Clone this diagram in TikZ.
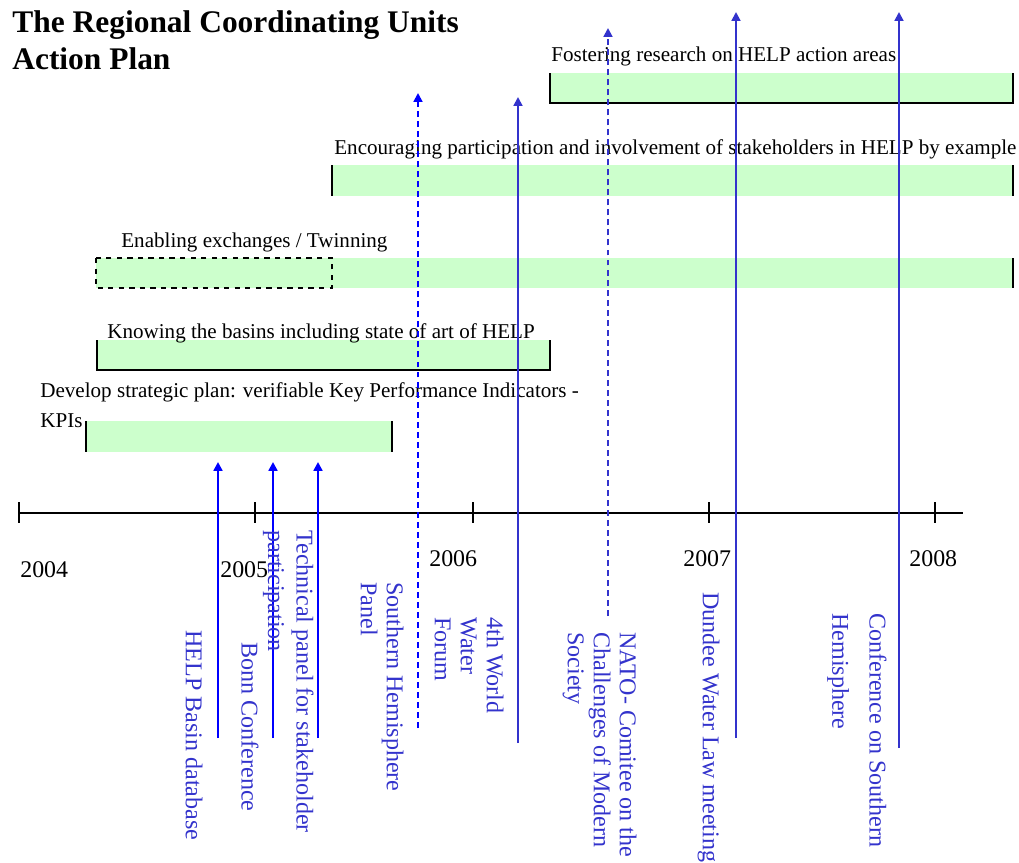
\documentclass[tikz,border=0pt]{standalone}
\usepackage{fontspec}
\setmainfont{Liberation Serif}
\usetikzlibrary{arrows.meta}
\definecolor{barfill}{RGB}{204,255,204}
\definecolor{evblue}{RGB}{51,51,204}
\definecolor{deepblue}{RGB}{0,0,255}
\tikzset{barlabel/.style={anchor=base west,inner sep=0,font=\fontsize{12}{14.4}\selectfont},
 yearlabel/.style={anchor=base west,inner sep=0,font=\fontsize{13.6}{16}\selectfont},
 evlabel/.style={rotate=-90,anchor=north west,inner sep=0,align=left,text=evblue,
   font=\fontsize{13.7}{14.8}\selectfont},
 evline/.style={-{Triangle[length=5pt,width=5pt]},line width=1.1pt,draw=evblue},
 evthick/.style={evline,line width=1.7pt,draw=deepblue},
 evdash/.style={evline,dash pattern=on 3.4pt off 2.3pt},
 baredge/.style={line width=0.8pt},
 }

\begin{document}
\begin{tikzpicture}[x=0.02cm,y=-0.02cm]
    \useasboundingbox (0,0) rectangle (1019,863);
    % title
    \node[anchor=north west,inner sep=0,align=left,font=\fontsize{17.9}{21}\selectfont\bfseries]
        (title) at (12,10) {The Regional Coordinating Units\\Action Plan};

    % bars
    \fill[barfill] (550,73) rectangle (1013,103);
    \draw[baredge] (550,73) -- (550,103) -- (1013,103) -- (1013,73);
    \node[barlabel] (foster) at (551,61) {Fostering research on HELP action areas};

    \fill[barfill] (332,165) rectangle (1013,196);
    \draw[baredge] (332,165) -- (332,196);
    \draw[baredge] (1013,165) -- (1013,196);
    \node[barlabel] (encour) at (334,154) {Encouraging participation and involvement of stakeholders in HELP by example};

    \fill[barfill] (96,258) rectangle (1013,288);
    \draw[baredge,dashed] (96,258) rectangle (332,288);
    \draw[baredge] (1013,258) -- (1013,288);
    \node[barlabel] (enable) at (121,247) {Enabling exchanges / Twinning};

    \fill[barfill] (97,340) rectangle (550,370);
    \draw[baredge] (97,340) -- (97,370) -- (550,370) -- (550,340);
    \node[barlabel] (knowing) at (107,338) {Knowing the basins including state of art of HELP};

    \fill[barfill] (86,421) rectangle (392,452);
    \draw[baredge] (86,421) -- (86,452);
    \draw[baredge] (392,421) -- (392,452);
    \node[anchor=north west,inner sep=0,align=left,font=\fontsize{12}{17}\selectfont]
        (develop) at (40,382) {Develop strategic plan: verifiable Key Performance Indicators -\\KPIs};

    % time axis
    \draw[line width=1pt] (19,513) -- (963,513);
    \foreach \x in {19,255,473,709,935}
        \draw[line width=0.8pt] (\x,502) -- (\x,523);
    \foreach \yr/\x/\b in {2004/20/577,2005/220/577,2006/429/566,2007/683/566,2008/909/566}
        \node[yearlabel] (yr\yr) at (\x,\b) {\yr};

    % events
    \coordinate (helpB) at (218,738);  \coordinate (helpT) at (218,462);
    \coordinate (bonnB) at (273,738);  \coordinate (bonnT) at (273,462);
    \coordinate (techB) at (318,738);  \coordinate (techT) at (318,462);
    \coordinate (sthB) at (418,728);   \coordinate (sthT) at (418,93);
    \coordinate (wwfB) at (518,743);   \coordinate (wwfT) at (518,97);
    \coordinate (natoB) at (608,616);  \coordinate (natoT) at (608,28);
    \coordinate (dundB) at (736,738);  \coordinate (dundT) at (736,12);
    \coordinate (confB) at (899,748);  \coordinate (confT) at (899,12);

    \draw[evthick] (helpB) -- (helpT);
    \draw[evthick] (bonnB) -- (bonnT);
    \draw[evthick] (techB) -- (techT);
    \draw[evdash,draw=deepblue] (sthB) -- (sthT);
    \draw[evline] (wwfB) -- (wwfT);
    \draw[evdash] (natoB) -- (natoT);
    \draw[evline] (dundB) -- (dundT);
    \draw[evline] (confB) -- (confT);

    \node[evlabel] (help) at (203,630) {HELP Basin database};
    \node[evlabel] (bonn) at (259,642) {Bonn Conference};
    \node[evlabel] (tech) at (314,530) {Technical panel for stakeholder\\[1.5pt]participation};
    \node[evlabel] (sth) at (404,582) {Southern Hemisphere\\Panel};
    \node[evlabel] (wwf) at (504,617) {4th World\\Water\\Forum};
    \node[evlabel] (nato) at (637,632) {NATO- Comitee on the\\Challenges of Modern\\Society};
    \node[evlabel] (dund) at (720,592) {Dundee Water Law meeting};
    \node[evlabel] (conf) at (887,613) {Conference on Southern\\[6.5pt]Hemisphere};
\end{tikzpicture}
\end{document}
